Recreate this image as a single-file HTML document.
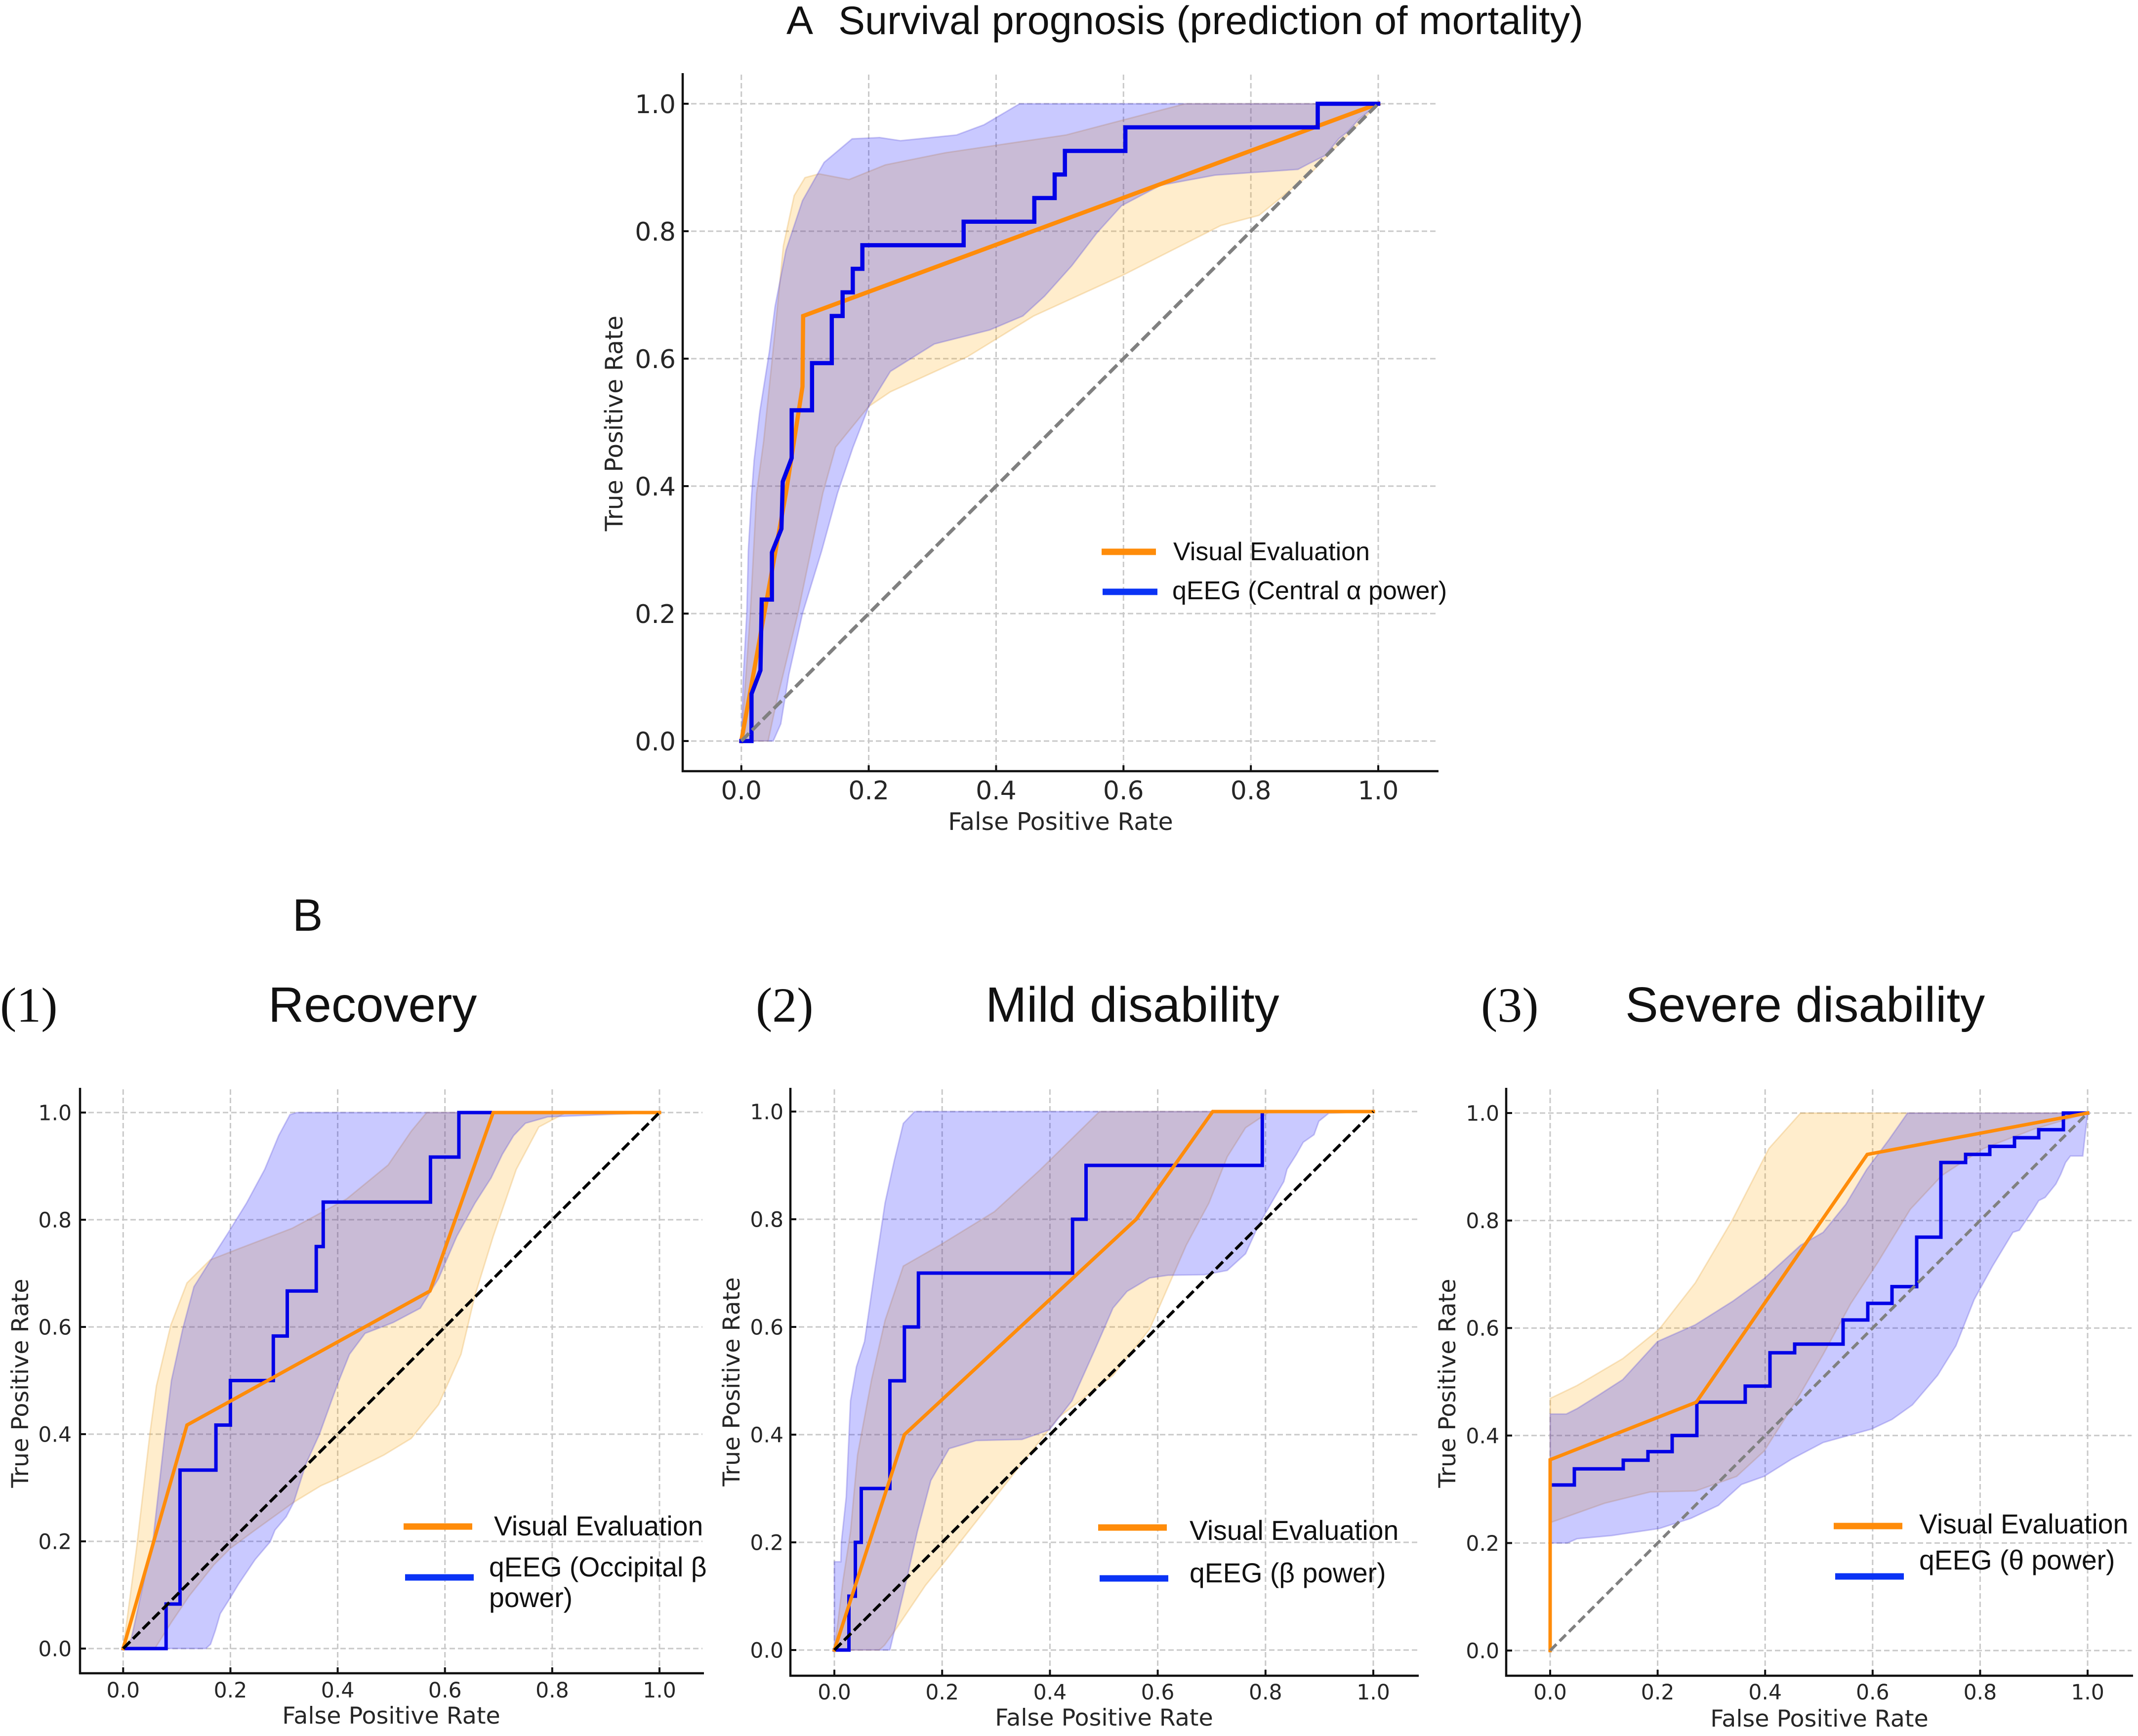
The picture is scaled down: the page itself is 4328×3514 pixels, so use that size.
<!DOCTYPE html>
<html lang="en">
<head>
<meta charset="utf-8">
<title>ROC curves: Visual Evaluation vs qEEG</title>
<style>
html,body{margin:0;padding:0;background:#fff;}
body{width:4328px;height:3514px;overflow:hidden;}
svg{display:block;}
.ttl{font-family:"Liberation Sans",Arial,sans-serif;fill:#111;}
.srf{font-family:"Liberation Serif","Times New Roman",serif;fill:#111;}
.leg{font-family:"Liberation Sans",Arial,sans-serif;fill:#111;}
.tick,.axl{font-family:"DejaVu Sans",sans-serif;fill:#262626;}
</style>
</head>
<body>
<svg id="figure" xmlns="http://www.w3.org/2000/svg" width="4328" height="3514" viewBox="0 0 4328 3514">
<rect x="0" y="0" width="4328" height="3514" fill="#ffffff"/>
<g id="plots"></g>

<text class="ttl" x="1592" y="69" font-size="81">A</text>
<text class="ttl" x="1697" y="69" font-size="81">Survival prognosis (prediction of mortality)</text>
<text class="ttl" x="592" y="1884" font-size="92">B</text>
<text class="srf" x="0" y="2068" font-size="100">(1)</text>
<text class="ttl" x="543" y="2068" font-size="100">Recovery</text>
<text class="srf" x="1530" y="2068" font-size="100">(2)</text>
<text class="ttl" x="1995" y="2068" font-size="100">Mild disability</text>
<text class="srf" x="2998" y="2068" font-size="100">(3)</text>
<text class="ttl" x="3290" y="2068" font-size="100">Severe disability</text>

<g>
  <line x1="2230" x2="2340" y1="1117" y2="1117" stroke="#ff8c0a" stroke-width="13"/>
  <text class="leg" x="2375" y="1134" font-size="52">Visual Evaluation</text>
  <line x1="2232" x2="2343" y1="1198" y2="1198" stroke="#0a33f5" stroke-width="13"/>
  <text class="leg" x="2373" y="1213" font-size="52">qEEG (Central α power)</text>
</g>
<g>
  <line x1="817" x2="956" y1="3090" y2="3090" stroke="#ff8c0a" stroke-width="13"/>
  <text class="leg" x="1000" y="3108" font-size="55.3">Visual Evaluation</text>
  <line x1="820" x2="959" y1="3193" y2="3193" stroke="#0a33f5" stroke-width="13"/>
  <text class="leg" x="990" y="3191" font-size="55.3">qEEG (Occipital β</text>
  <text class="leg" x="990" y="3253" font-size="55.3">power)</text>
</g>
<g>
  <line x1="2223" x2="2362" y1="3092" y2="3092" stroke="#ff8c0a" stroke-width="13"/>
  <text class="leg" x="2408" y="3117" font-size="55.3">Visual Evaluation</text>
  <line x1="2226" x2="2365" y1="3195" y2="3195" stroke="#0a33f5" stroke-width="13"/>
  <text class="leg" x="2408" y="3203" font-size="55.3">qEEG (β power)</text>
</g>
<g>
  <line x1="3712" x2="3851" y1="3089" y2="3089" stroke="#ff8c0a" stroke-width="13"/>
  <text class="leg" x="3885" y="3104" font-size="55.3">Visual Evaluation</text>
  <line x1="3715" x2="3854" y1="3191" y2="3191" stroke="#0a33f5" stroke-width="13"/>
  <text class="leg" x="3885" y="3177" font-size="55.3">qEEG (θ power)</text>
</g>
</svg>

<script>
// Shared tick values and labels
const tickValues = [0, 0.2, 0.4, 0.6, 0.8, 1.0];
const tickLabels = ['0.0', '0.2', '0.4', '0.6', '0.8', '1.0'];
const chanceLine = [[0, 0], [1, 1]];

// Panel A: survival prognosis
const aVisualCurve = [[0,0],[0.02,0.111],[0.05,0.278],[0.07,0.389],[0.096,0.556],[0.097,0.667],[1,1]];
const aQeegCurve = [[0,0],[0.016,0],[0.016,0.074],[0.03,0.111],[0.032,0.222],[0.048,0.222],[0.048,0.296],[0.063,0.333],[0.065,0.407],[0.079,0.444],[0.079,0.519],[0.111,0.519],[0.111,0.593],[0.142,0.593],[0.142,0.667],[0.159,0.667],[0.159,0.704],[0.175,0.704],[0.175,0.741],[0.19,0.741],[0.19,0.778],[0.349,0.778],[0.349,0.815],[0.46,0.815],[0.46,0.852],[0.492,0.852],[0.492,0.889],[0.508,0.889],[0.508,0.926],[0.603,0.926],[0.603,0.963],[0.905,0.963],[0.905,1],[1,1]];
const aQeegUpper = [[0,0],[0.003,0.1],[0.0085,0.2],[0.011,0.3],[0.0163,0.389],[0.02,0.44],[0.029,0.517],[0.044,0.611],[0.053,0.682],[0.07,0.77],[0.096,0.848],[0.13,0.908],[0.174,0.945],[0.217,0.947],[0.25,0.942],[0.338,0.951],[0.381,0.967],[0.437,1],[1,1]];
const aQeegLower = [[1,1],[0.969,0.975],[0.953,0.957],[0.938,0.945],[0.917,0.919],[0.891,0.906],[0.874,0.897],[0.744,0.888],[0.658,0.872],[0.597,0.84],[0.558,0.797],[0.519,0.746],[0.476,0.698],[0.442,0.667],[0.39,0.645],[0.303,0.623],[0.234,0.58],[0.2,0.525],[0.175,0.46],[0.151,0.389],[0.126,0.298],[0.096,0.2],[0.0745,0.104],[0.062,0.027],[0.05,0],[0,0]];
const aVisualUpper = [[0,0],[0.014,0.2],[0.024,0.389],[0.035,0.47],[0.053,0.643],[0.066,0.777],[0.083,0.856],[0.1,0.884],[0.122,0.89],[0.169,0.881],[0.226,0.904],[0.32,0.923],[0.51,0.951],[0.697,1],[1,1]];
const aVisualLower = [[1,1],[0.891,0.888],[0.813,0.825],[0.753,0.809],[0.597,0.73],[0.459,0.667],[0.355,0.603],[0.234,0.548],[0.2,0.525],[0.148,0.461],[0.128,0.389],[0.0887,0.2],[0.056,0.065],[0.042,0],[0,0]];

// Panel B1: recovery
const b1VisualCurve = [[0,0],[0.119,0.417],[0.572,0.667],[0.69,1],[1,1]];
const b1QeegCurve = [[0,0],[0.08,0],[0.08,0.083],[0.106,0.083],[0.106,0.333],[0.173,0.333],[0.173,0.417],[0.2,0.417],[0.2,0.5],[0.28,0.5],[0.28,0.583],[0.306,0.583],[0.306,0.667],[0.36,0.667],[0.36,0.75],[0.373,0.75],[0.373,0.833],[0.573,0.833],[0.573,0.917],[0.626,0.917],[0.626,1],[1,1]];
const b1QeegUpper = [[0,0],[0.015,0.018],[0.056,0.205],[0.078,0.402],[0.09,0.5],[0.111,0.596],[0.132,0.675],[0.166,0.729],[0.196,0.776],[0.23,0.831],[0.264,0.894],[0.29,0.957],[0.311,0.996],[0.324,1],[1,1]];
const b1QeegLower = [[1,1],[0.792,0.992],[0.75,0.98],[0.728,0.957],[0.707,0.922],[0.686,0.878],[0.656,0.831],[0.622,0.769],[0.588,0.69],[0.554,0.635],[0.503,0.608],[0.451,0.588],[0.422,0.549],[0.4,0.494],[0.366,0.4],[0.341,0.345],[0.318,0.273],[0.304,0.246],[0.283,0.221],[0.274,0.199],[0.246,0.166],[0.215,0.12],[0.2,0.095],[0.181,0.065],[0.172,0.034],[0.163,0.008],[0.154,0],[0,0]];
const b1VisualUpper = [[0,0],[0.025,0.187],[0.05,0.402],[0.062,0.49],[0.089,0.604],[0.119,0.682],[0.162,0.725],[0.213,0.745],[0.315,0.784],[0.417,0.839],[0.494,0.902],[0.537,0.965],[0.566,1],[1,1]];
const b1VisualLower = [[1,1],[0.826,1],[0.775,0.973],[0.733,0.894],[0.69,0.769],[0.656,0.659],[0.63,0.549],[0.588,0.455],[0.537,0.392],[0.486,0.361],[0.392,0.314],[0.369,0.304],[0.318,0.273],[0.246,0.221],[0.2,0.187],[0.169,0.156],[0.123,0.098],[0.09,0.049],[0.059,0],[0,0]];

// Panel B2: mild disability
const b2VisualCurve = [[0,0],[0.13,0.4],[0.56,0.8],[0.702,1],[1,1]];
const b2QeegCurve = [[0,0],[0.027,0],[0.027,0.1],[0.039,0.1],[0.039,0.2],[0.05,0.2],[0.05,0.3],[0.103,0.3],[0.103,0.5],[0.13,0.5],[0.13,0.6],[0.156,0.6],[0.156,0.7],[0.442,0.7],[0.442,0.8],[0.467,0.8],[0.467,0.9],[0.794,0.9],[0.794,1],[1,1]];
const b2QeegUpper = [[0,0],[0,0.164],[0.012,0.164],[0.013,0.2],[0.022,0.284],[0.03,0.463],[0.041,0.526],[0.056,0.573],[0.073,0.69],[0.094,0.83],[0.111,0.908],[0.128,0.978],[0.149,1],[1,1]];
const b2QeegLower = [[1,1],[0.9175,0.997],[0.899,0.982],[0.89,0.957],[0.87,0.943],[0.857,0.92],[0.84,0.893],[0.834,0.87],[0.788,0.791],[0.763,0.736],[0.729,0.705],[0.687,0.697],[0.619,0.696],[0.585,0.691],[0.543,0.666],[0.517,0.635],[0.483,0.557],[0.441,0.463],[0.399,0.409],[0.348,0.391],[0.263,0.389],[0.213,0.374],[0.179,0.315],[0.154,0.22],[0.135,0.135],[0.111,0.034],[0.103,0],[0,0]];
const b2VisualUpper = [[0,0],[0.001,0.006],[0.016,0.129],[0.03,0.22],[0.043,0.362],[0.069,0.502],[0.094,0.612],[0.128,0.713],[0.196,0.752],[0.297,0.814],[0.382,0.892],[0.492,1],[1,1]];
const b2VisualLower = [[1,1],[0.805,0.998],[0.763,0.97],[0.729,0.916],[0.695,0.83],[0.653,0.752],[0.619,0.674],[0.585,0.596],[0.517,0.51],[0.416,0.432],[0.323,0.315],[0.203,0.162],[0.169,0.12],[0.111,0.034],[0.093,0.009],[0.083,0],[0,0]];

// Panel B3: severe disability
const b3VisualCurve = [[0,0],[0,0.355],[0.272,0.462],[0.59,0.923],[1,1]];
const b3QeegCurve = [[0,0],[0,0.308],[0.045,0.308],[0.045,0.338],[0.136,0.338],[0.136,0.354],[0.182,0.354],[0.182,0.37],[0.227,0.37],[0.227,0.4],[0.273,0.4],[0.273,0.462],[0.363,0.462],[0.363,0.492],[0.409,0.492],[0.409,0.554],[0.455,0.554],[0.455,0.57],[0.545,0.57],[0.545,0.615],[0.591,0.615],[0.591,0.646],[0.636,0.646],[0.636,0.677],[0.682,0.677],[0.682,0.769],[0.727,0.769],[0.727,0.908],[0.773,0.908],[0.773,0.923],[0.818,0.923],[0.818,0.938],[0.864,0.938],[0.864,0.954],[0.909,0.954],[0.909,0.969],[0.955,0.969],[0.955,1],[1,1]];
const b3QeegUpper = [[0,0.44],[0.03,0.44],[0.05,0.45],[0.09,0.475],[0.135,0.504],[0.2,0.575],[0.27,0.606],[0.34,0.65],[0.398,0.692],[0.466,0.754],[0.508,0.778],[0.55,0.83],[0.589,0.895],[0.63,0.95],[0.665,1],[1,1]];
const b3QeegLower = [[1,1],[0.991,0.92],[0.968,0.92],[0.959,0.908],[0.95,0.886],[0.941,0.868],[0.921,0.843],[0.909,0.837],[0.898,0.819],[0.873,0.782],[0.861,0.778],[0.823,0.715],[0.789,0.653],[0.755,0.567],[0.721,0.512],[0.674,0.457],[0.636,0.43],[0.598,0.412],[0.551,0.399],[0.508,0.387],[0.449,0.356],[0.398,0.324],[0.356,0.309],[0.313,0.27],[0.262,0.246],[0.203,0.227],[0.115,0.214],[0.05,0.208],[0.032,0.2],[0,0.2]];
const b3VisualUpper = [[0,0.469],[0.05,0.493],[0.135,0.543],[0.203,0.598],[0.27,0.684],[0.339,0.801],[0.407,0.934],[0.466,1],[1,1]];
const b3VisualLower = [[1,1],[0.9,0.97],[0.806,0.934],[0.729,0.884],[0.67,0.821],[0.61,0.723],[0.559,0.645],[0.508,0.551],[0.458,0.465],[0.398,0.371],[0.347,0.324],[0.271,0.297],[0.186,0.295],[0.101,0.274],[0,0.238]];

const NS = 'http://www.w3.org/2000/svg';
const plots = document.getElementById('plots');

function make(parent, tag, attrs) {
  const el = document.createElementNS(NS, tag);
  for (const k in attrs) el.setAttribute(k, attrs[k]);
  parent.appendChild(el);
  return el;
}

function pathFrom(points, sx, sy) {
  return points.map((p, i) => (i ? 'L' : 'M') + sx(p[0]).toFixed(1) + ' ' + sy(p[1]).toFixed(1)).join(' ');
}

function drawPanel(cfg) {
  const sx = v => cfg.x0 + (cfg.x1 - cfg.x0) * v;
  const sy = v => cfg.y0 + (cfg.y1 - cfg.y0) * v;

  const g = make(plots, 'g', {});
  
  

  // grid
  tickValues.forEach(v => {
    const vg = make(g, 'line', {x1: sx(v), x2: sx(v), y1: cfg.top + 3, y2: cfg.bottom, stroke: '#c9c9c9', 'stroke-width': 3, 'stroke-dasharray': '11 6'});
    
    
    const hg = make(g, 'line', {x1: cfg.left, x2: cfg.right - 3, y1: sy(v), y2: sy(v), stroke: '#c9c9c9', 'stroke-width': 3, 'stroke-dasharray': '11 6'});
    
    
  });

  // confidence bands
  const bandV = make(g, 'path', {d: pathFrom(cfg.visualUpper.concat(cfg.visualLower), sx, sy) + ' Z', fill: 'rgb(255,165,0)', 'fill-opacity': 0.2, stroke: 'rgb(230,170,70)', 'stroke-opacity': 0.3, 'stroke-width': 3});
  
  
  const bandQ = make(g, 'path', {d: pathFrom(cfg.qeegUpper.concat(cfg.qeegLower), sx, sy) + ' Z', fill: 'rgb(0,0,255)', 'fill-opacity': 0.21, stroke: 'rgb(90,80,220)', 'stroke-opacity': 0.3, 'stroke-width': 3});
  
  

  // ROC curves
  const q = make(g, 'path', {d: pathFrom(cfg.qeeg, sx, sy), fill: 'none', stroke: '#0202e6', 'stroke-width': cfg.lineWidth, 'stroke-linejoin': 'miter', 'stroke-linecap': 'square'});
  
  
  const o = make(g, 'path', {d: pathFrom(cfg.visual, sx, sy), fill: 'none', stroke: '#ff8c0a', 'stroke-width': cfg.lineWidth, 'stroke-linejoin': 'miter', 'stroke-linecap': 'square'});
  
  
  // blue is drawn above orange in panel A, as in the figure
  if (cfg.blueOnTop) g.appendChild(q);

  // chance diagonal
  const diag = make(g, 'path', {d: pathFrom(chanceLine, sx, sy), fill: 'none', stroke: cfg.diagColor, 'stroke-width': cfg.diagWidth, 'stroke-dasharray': cfg.diagDash});
  
  

  // spines
  const sl = make(g, 'line', {x1: cfg.left, x2: cfg.left, y1: cfg.top, y2: cfg.bottom + 2, stroke: '#111', 'stroke-width': 4.5});
  
  
  const sb = make(g, 'line', {x1: cfg.left - 2, x2: cfg.right, y1: cfg.bottom, y2: cfg.bottom, stroke: '#111', 'stroke-width': 4.5});
  
  

  // tick marks and tick labels
  tickValues.forEach((v, i) => {
    const xm = make(g, 'line', {x1: sx(v), x2: sx(v), y1: cfg.bottom, y2: cfg.bottom - 12, stroke: '#111', 'stroke-width': 4});
    
    
    const ym = make(g, 'line', {x1: cfg.left, x2: cfg.left + 12, y1: sy(v), y2: sy(v), stroke: '#111', 'stroke-width': 4});
    
    
    const xt = make(g, 'text', {class: 'tick', x: sx(v), y: cfg.xTickY, 'font-size': cfg.tickSize, 'text-anchor': 'middle'});
    
    
    xt.textContent = tickLabels[i];
    const yt = make(g, 'text', {class: 'tick', x: cfg.yTickX, y: sy(v) + cfg.tickSize * 0.365, 'font-size': cfg.tickSize, 'text-anchor': 'end'});
    
    
    yt.textContent = tickLabels[i];
  });

  // axis titles
  const xl = make(g, 'text', {class: 'axl', x: cfg.xLabelX, y: cfg.xLabelY, 'font-size': cfg.labelSize, 'text-anchor': 'middle'});
  
  
  xl.textContent = 'False Positive Rate';
  const yl = make(g, 'text', {class: 'axl', x: 0, y: 0, 'font-size': cfg.labelSize, 'text-anchor': 'middle', transform: 'translate(' + cfg.yLabelX + ' ' + cfg.yLabelY + ') rotate(-90)'});
  
  
  yl.textContent = 'True Positive Rate';
}

drawPanel({name: 'panel-a-survival', x0: 1500.7, x1: 2790, y0: 1500, y1: 210, left: 1382, right: 2912, top: 148, bottom: 1561,
  visual: aVisualCurve, qeeg: aQeegCurve, visualUpper: aVisualUpper, visualLower: aVisualLower, qeegUpper: aQeegUpper, qeegLower: aQeegLower,
  diagColor: '#808080', diagWidth: 7, diagDash: '22 9', lineWidth: 8.5, blueOnTop: true,
  tickSize: 52, labelSize: 49, xTickY: 1618, yTickX: 1368, xLabelX: 2147, xLabelY: 1680, yLabelX: 1260, yLabelY: 857});

drawPanel({name: 'panel-b1-recovery', x0: 249.3, x1: 1335, y0: 3337, y1: 2252, left: 162, right: 1425, top: 2202, bottom: 3387,
  visual: b1VisualCurve, qeeg: b1QeegCurve, visualUpper: b1VisualUpper, visualLower: b1VisualLower, qeegUpper: b1QeegUpper, qeegLower: b1QeegLower,
  diagColor: '#000', diagWidth: 6, diagDash: '20 8', lineWidth: 7, blueOnTop: false,
  tickSize: 42.5, labelSize: 47.5, xTickY: 3436, yTickX: 145, xLabelX: 792, xLabelY: 3489, yLabelX: 57, yLabelY: 2800});

drawPanel({name: 'panel-b2-mild-disability', x0: 1689, x1: 2780, y0: 3340, y1: 2250, left: 1600, right: 2872, top: 2202, bottom: 3392,
  visual: b2VisualCurve, qeeg: b2QeegCurve, visualUpper: b2VisualUpper, visualLower: b2VisualLower, qeegUpper: b2QeegUpper, qeegLower: b2QeegLower,
  diagColor: '#000', diagWidth: 6, diagDash: '20 8', lineWidth: 7, blueOnTop: false,
  tickSize: 42.5, labelSize: 47.5, xTickY: 3440, yTickX: 1586, xLabelX: 2235, xLabelY: 3493, yLabelX: 1497, yLabelY: 2797});

drawPanel({name: 'panel-b3-severe-disability', x0: 3138, x1: 4226, y0: 3341, y1: 2253, left: 3049, right: 4318, top: 2202, bottom: 3392,
  visual: b3VisualCurve, qeeg: b3QeegCurve, visualUpper: b3VisualUpper, visualLower: b3VisualLower, qeegUpper: b3QeegUpper, qeegLower: b3QeegLower,
  diagColor: '#808080', diagWidth: 6, diagDash: '18 9', lineWidth: 7, blueOnTop: false,
  tickSize: 42.5, labelSize: 47.5, xTickY: 3440, yTickX: 3035, xLabelX: 3683, xLabelY: 3495, yLabelX: 2946, yLabelY: 2800});
</script>
</body>
</html>
